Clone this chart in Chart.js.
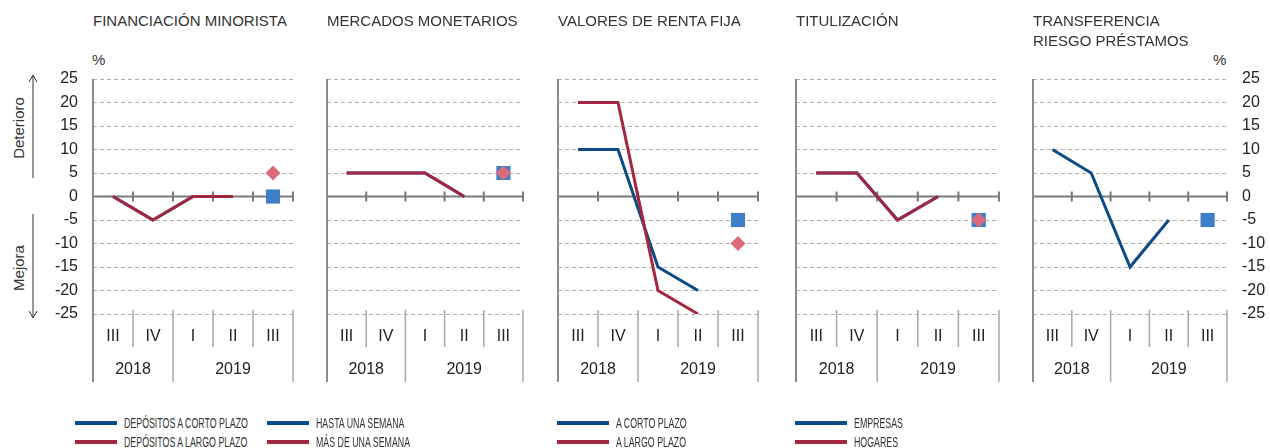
<!DOCTYPE html>
<html>
<head>
<meta charset="utf-8">
<script src="https://cdn.jsdelivr.net/npm/chart.js@4.4.1/dist/chart.umd.min.js"></script>
<style>
  body { margin: 0; background: #fff; overflow: hidden; }
  #wrap { position: relative; width: 1270px; height: 448px; font-family: "Liberation Sans", Arial, sans-serif; color: #333; }
  #wrap canvas { position: absolute; top: 0; }
  .title { position: absolute; top: 11px; font-size: 15px; line-height: 20px; white-space: nowrap; }
  .pct { position: absolute; top: 51px; font-size: 15px; }
  .side { position: absolute; font-size: 15px; white-space: nowrap; transform: translate(-50%, -50%) rotate(-90deg); }
  .leg { position: absolute; height: 4px; }
  .legtxt { position: absolute; font-family: "Liberation Sans Narrow", "Arial Narrow", "Liberation Sans", sans-serif; font-size: 15px; line-height: 16px; white-space: nowrap; transform-origin: left center; color: #333; }
</style>
</head>
<body>
<div id="wrap">
  <svg width="50" height="330" style="position:absolute;left:0;top:0">
    <g stroke="#333" stroke-width="1" fill="none">
      <line x1="33" y1="75" x2="33" y2="178"/>
      <polyline points="29,82 33,75 37,82"/>
      <line x1="33" y1="214" x2="33" y2="318"/>
      <polyline points="29,311 33,318 37,311"/>
    </g>
  </svg>
  <div class="side" style="left:18px;top:128px">Deterioro</div>
  <div class="side" style="left:18px;top:268px">Mejora</div>
  <div class="pct" style="left:92px">%</div>
  <div class="pct" style="left:1213px">%</div>
</div>
<script>
// quarters and years on the category axis
const quarters = ['III', 'IV', 'I', 'II', 'III'];
const yearLabels = ['2018', '2019'];
const yearSpans = [2, 3];

// financiación minorista
const retailShort = [0, -5, 0, 0, null];
const retailLong = [0, -5, 0, 0, null];
const retailShortNext = [null, null, null, null, 0];
const retailLongNext = [null, null, null, null, 5];

// mercados monetarios
const moneyWeek = [5, 5, 5, 0, null];
const moneyOverWeek = [5, 5, 5, 0, null];
const moneyWeekNext = [null, null, null, null, 5];
const moneyOverWeekNext = [null, null, null, null, 5];

// valores de renta fija
const bondsShort = [10, 10, -15, -20, null];
const bondsLong = [20, 20, -20, -25, null];
const bondsShortNext = [null, null, null, null, -5];
const bondsLongNext = [null, null, null, null, -10];

// titulización
const secCompanies = [5, 5, -5, 0, null];
const secHouseholds = [5, 5, -5, 0, null];
const secCompaniesNext = [null, null, null, null, -5];
const secHouseholdsNext = [null, null, null, null, -5];

// transferencia riesgo préstamos
const transferCompanies = [10, 5, -15, -5, null];
const transferCompaniesNext = [null, null, null, null, -5];

const titles = [
  ['FINANCIACIÓN MINORISTA'],
  ['MERCADOS MONETARIOS'],
  ['VALORES DE RENTA FIJA'],
  ['TITULIZACIÓN'],
  ['TRANSFERENCIA', 'RIESGO PRÉSTAMOS']
];

const legendRows = [
  ['DEPÓSITOS A CORTO PLAZO', 'DEPÓSITOS A LARGO PLAZO'],
  ['HASTA UNA SEMANA', 'MÁS DE UNA SEMANA'],
  ['A CORTO PLAZO', 'A LARGO PLAZO'],
  ['EMPRESAS', 'HOGARES']
];

const BLUE = '#0e4a86';
const RED = '#a3283f';
const SQUARE = '#3e7fc6';
const DIAMOND = '#db6b7b';
const FONT = '"Liberation Sans", Arial, sans-serif';

const plotLeft = [93, 327, 558, 796, 1033];
const plotWidth = [200, 196, 200, 203, 194];
const AXIS_W = 60;
const CANVAS_H = 400;

const panelFrame = {
  id: 'panelFrame',
  beforeDatasetsDraw(chart) {
    const { ctx, chartArea: a, scales } = chart;
    const y0 = scales.y.getPixelForValue(0);
    const cw = (a.right - a.left) / quarters.length;
    ctx.save();
    ctx.strokeStyle = '#7a7a7a';
    ctx.lineWidth = 2;
    ctx.beginPath();
    ctx.moveTo(a.left, y0);
    ctx.lineTo(a.right, y0);
    for (let i = 1; i <= quarters.length; i++) {
      ctx.moveTo(a.left + i * cw, y0 - 5);
      ctx.lineTo(a.left + i * cw, y0 + 5);
    }
    ctx.stroke();
    ctx.restore();
  },
  afterDraw(chart) {
    const { ctx, chartArea: a } = chart;
    const cw = (a.right - a.left) / quarters.length;
    ctx.save();
    // left axis
    ctx.strokeStyle = '#8a8a8a';
    ctx.lineWidth = 2;
    ctx.beginPath();
    ctx.moveTo(a.left, a.top);
    ctx.lineTo(a.left, a.bottom + 68);
    ctx.stroke();
    // separators in the category rows
    ctx.strokeStyle = '#a8a8a8';
    ctx.lineWidth = 1.5;
    const groupEnds = [];
    let acc = 0;
    yearSpans.forEach((s) => { acc += s; groupEnds.push(acc); });
    ctx.beginPath();
    for (let i = 1; i <= quarters.length; i++) {
      const px = a.left + i * cw;
      const long = groupEnds.includes(i);
      ctx.moveTo(px, a.bottom - 4);
      ctx.lineTo(px, a.bottom + (long ? 68 : 33));
    }
    ctx.stroke();
    // years
    ctx.fillStyle = '#222';
    ctx.font = '16px ' + FONT;
    ctx.textAlign = 'center';
    ctx.textBaseline = 'middle';
    let start = 0;
    yearLabels.forEach((lab, k) => {
      const mid = a.left + (start + yearSpans[k] / 2) * cw;
      ctx.fillText(lab, mid, a.bottom + 56);
      start += yearSpans[k];
    });
    ctx.restore();
  }
};

function lineSet(data, color) {
  return { type: 'line', data, borderColor: color, borderWidth: 3, pointRadius: 0, tension: 0,
    borderJoinStyle: 'miter', fill: false, spanGaps: false };
}
function squareSet(data) {
  return { data, showLine: false, pointStyle: 'rect', pointRadius: 10, backgroundColor: SQUARE,
    borderWidth: 0 };
}
function diamondSet(data) {
  return { data, showLine: false, pointStyle: 'rectRot', pointRadius: 7.5, backgroundColor: DIAMOND,
    borderWidth: 0 };
}

// first dataset is drawn on top
const panels = [
  [diamondSet(retailLongNext), squareSet(retailShortNext), lineSet(retailLong, RED), lineSet(retailShort, BLUE)],
  [diamondSet(moneyOverWeekNext), squareSet(moneyWeekNext), lineSet(moneyOverWeek, RED), lineSet(moneyWeek, BLUE)],
  [diamondSet(bondsLongNext), squareSet(bondsShortNext), lineSet(bondsLong, RED), lineSet(bondsShort, BLUE)],
  [diamondSet(secHouseholdsNext), squareSet(secCompaniesNext), lineSet(secHouseholds, RED), lineSet(secCompanies, BLUE)],
  [squareSet(transferCompaniesNext), lineSet(transferCompanies, BLUE)]
];

const wrap = document.getElementById('wrap');

panels.forEach((datasets, i) => {
  const onRight = i === panels.length - 1;
  const showTicks = i === 0 || onRight;

  const t = document.createElement('div');
  t.className = 'title';
  t.style.left = plotLeft[i] + 'px';
  t.innerHTML = titles[i].join('<br>');
  wrap.appendChild(t);

  const c = document.createElement('canvas');
  c.width = plotWidth[i] + 2 * AXIS_W;
  c.height = CANVAS_H;
  c.style.left = (plotLeft[i] - AXIS_W) + 'px';
  wrap.appendChild(c);

  new Chart(c.getContext('2d'), {
    type: 'line',
    data: { labels: quarters, datasets },
    options: {
      responsive: false,
      animation: false,
      events: [],
      layout: { padding: { top: 79, bottom: 0, left: onRight ? AXIS_W : 0, right: onRight ? 0 : AXIS_W } },
      plugins: { legend: { display: false }, tooltip: { enabled: false } },
      scales: {
        x: {
          type: 'category',
          offset: true,
          grid: { display: false, drawTicks: false },
          border: { display: false },
          ticks: { autoSkip: false, maxRotation: 0, padding: 13, color: '#222', font: { family: FONT, size: 16 } },
          afterFit(s) { s.height = CANVAS_H - 314; }
        },
        y: {
          position: onRight ? 'right' : 'left',
          min: -25,
          max: 25,
          grid: { color: '#b0b0b0', lineWidth: 1, drawTicks: false },
          border: { display: false, dash: [4, 3] },
          ticks: { stepSize: 5, display: showTicks, padding: 15, color: '#222', font: { family: FONT, size: 16 } },
          afterFit(s) { s.width = AXIS_W; }
        }
      }
    },
    plugins: [panelFrame]
  });
});

// legend under the first four panels
const legLineX = [75, 267, 557, 795];
const legLineW = [42, 42, 52, 52];
const legRowY = [423, 442];
const legTexts = [];
legendRows.forEach((pair, col) => {
  pair.forEach((txt, row) => {
    const ln = document.createElement('div');
    ln.className = 'leg';
    ln.style.left = legLineX[col] + 'px';
    ln.style.width = legLineW[col] + 'px';
    ln.style.top = (legRowY[row] - 2) + 'px';
    ln.style.background = row === 0 ? BLUE : RED;
    wrap.appendChild(ln);
    const tx = document.createElement('div');
    tx.className = 'legtxt';
    tx.style.left = (legLineX[col] + legLineW[col] + 7) + 'px';
    tx.style.top = (legRowY[row] - 8) + 'px';
    tx.textContent = txt;
    wrap.appendChild(tx);
    legTexts.push(tx);
  });
});
// the legend type is a condensed face: squeeze so the first label spans 124px
const squeeze = 124 / legTexts[0].offsetWidth;
legTexts.forEach((tx) => { tx.style.transform = 'scaleX(' + squeeze + ')'; });
</script>
</body>
</html>
